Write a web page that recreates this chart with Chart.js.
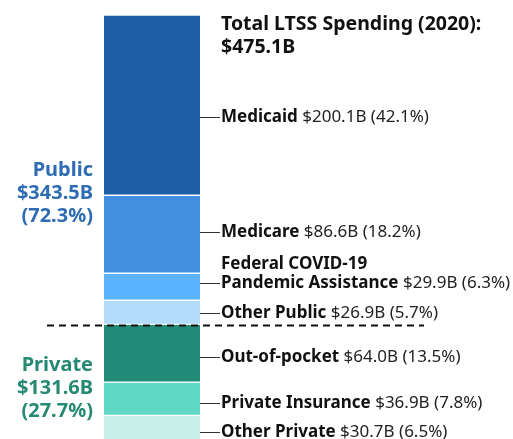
<!DOCTYPE html>
<html>
<head>
<meta charset="utf-8">
<script src="https://cdn.jsdelivr.net/npm/chart.js@4"></script>
<style>
  html, body { margin: 0; padding: 0; background: #fff; overflow: hidden; }
  #wrap { position: relative; width: 513px; height: 443px; }
</style>
</head>
<body>
<div id="wrap"><canvas id="ltss"></canvas></div>
<script>
// LTSS spending by payer, 2020 (billions)
const categories = ['Medicaid', 'Medicare', 'Federal COVID-19\nPandemic Assistance', 'Other Public',
                    'Out-of-pocket', 'Private Insurance', 'Other Private'];
const spending   = [200.1, 86.6, 29.9, 26.9, 64.0, 36.9, 30.7];
const shares     = [42.1, 18.2, 6.3, 5.7, 13.5, 7.8, 6.5];

const groups      = ['Public', 'Private'];
const groupTotals = [343.5, 131.6];
const groupShares = [72.3, 27.7];
const totalSpend  = 475.1;

const colors      = ['#1d5ea7', '#418fde', '#5bb3fe', '#b3dcfb', '#228b78', '#5fd8c4', '#c8f0e8'];
const groupColors = ['#2e6db3', '#258973'];

const FONT = '"Noto Sans", "Open Sans", sans-serif';

const labelPlugin = {
  id: 'ltssLabels',
  afterDraw(chart, args, opts) {
    const { ctx, chartArea } = chart;
    const y = chart.scales.y;
    const meta = chart.getDatasetMeta(0);
    const barRight = meta.data[0].x + meta.data[0].width / 2;
    const textX = barRight + 21;

    ctx.save();
    ctx.textBaseline = 'middle';
    ctx.fillStyle = '#111';

    // heading
    ctx.font = 'bold 19.5px ' + FONT;
    ctx.fillText('Total LTSS Spending (2020):', textX, chartArea.top + 9);
    ctx.fillText('$' + totalSpend.toFixed(1) + 'B', textX, chartArea.top + 32);

    // segment labels
    let start = 0;
    spending.forEach((v, i) => {
      const ly = y.getPixelForValue(start + v / 2) + opts.nudge[i];
      start += v;
      const lines = categories[i].split('\n');

      ctx.strokeStyle = '#333';
      ctx.lineWidth = 1;
      ctx.beginPath();
      ctx.moveTo(barRight, Math.round(ly) + 0.5);
      ctx.lineTo(textX - 1, Math.round(ly) + 0.5);
      ctx.stroke();

      lines.forEach((ln, k) => {
        const yy = ly - (lines.length - 1 - k) * 19;
        ctx.fillStyle = '#111';
        ctx.font = 'bold 17px ' + FONT;
        ctx.fillText(ln, textX, yy);
        if (k === lines.length - 1) {
          const w = ctx.measureText(ln + ' ').width;
          ctx.font = '17px ' + FONT;
          ctx.fillStyle = '#222';
          ctx.fillText('$' + v.toFixed(1) + 'B (' + shares[i] + '%)', textX + w, yy);
        }
      });
    });

    // public / private split
    const split = y.getPixelForValue(groupTotals[0]) + 1;
    ctx.strokeStyle = '#111';
    ctx.lineWidth = 2;
    ctx.setLineDash([7, 5]);
    ctx.beginPath();
    ctx.moveTo(47, split);
    ctx.lineTo(424, split);
    ctx.stroke();
    ctx.setLineDash([]);

    // group labels on the left
    ctx.textAlign = 'right';
    ctx.font = 'bold 20px ' + FONT;
    let gStart = 0;
    groups.forEach((g, gi) => {
      const centre = y.getPixelForValue(gStart + groupTotals[gi] / 2) + opts.groupNudge[gi];
      gStart += groupTotals[gi];
      ctx.fillStyle = groupColors[gi];
      const txt = [g, '$' + groupTotals[gi].toFixed(1) + 'B', '(' + groupShares[gi] + '%)'];
      txt.forEach((t, k) => ctx.fillText(t, 93, centre + (k - 1) * 23));
    });
    ctx.restore();
  }
};

new Chart(document.getElementById('ltss'), {
  type: 'bar',
  data: {
    labels: ['LTSS'],
    datasets: spending.map((v, i) => ({
      label: categories[i],
      data: [v],
      backgroundColor: colors[i],
      borderColor: '#ffffff',
      borderWidth: { top: 1, bottom: 1, left: 0, right: 0 },
      borderSkipped: false,
      barPercentage: 1,
      categoryPercentage: 1
    }))
  },
  options: {
    responsive: true,
    maintainAspectRatio: false,
    animation: false,
    layout: { padding: { top: 15, bottom: 0, left: 104, right: 313 } },
    plugins: {
      legend: { display: false },
      tooltip: { enabled: false },
      ltssLabels: { nudge: [12, -2, -4, 1, 4, 4, 3], groupNudge: [24, 5] }
    },
    scales: {
      x: { stacked: true, display: false },
      y: { stacked: true, display: false, reverse: true, min: 0, max: totalSpend }
    }
  },
  plugins: [labelPlugin]
});
</script>
</body>
</html>
